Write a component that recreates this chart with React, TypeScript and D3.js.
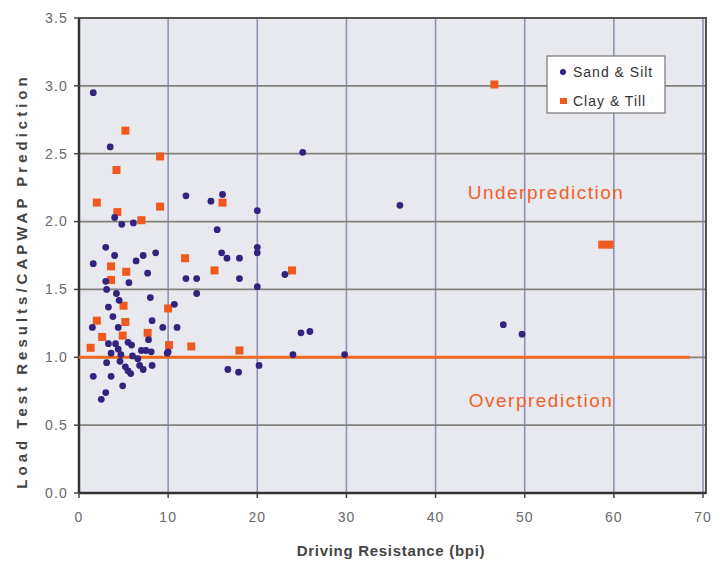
import React from "react";
import * as d3 from "d3";

const xTicks = [0, 10, 20, 30, 40, 50, 60, 70];
const yTicks = [0, 0.5, 1.0, 1.5, 2.0, 2.5, 3.0, 3.5];

const sandSilt: [number, number][] = [
  [1.6, 2.95], [3.5, 2.55], [12.0, 2.19], [14.8, 2.15], [16.1, 2.2], [20.0, 2.08], [25.1, 2.51], [36.0, 2.12],
  [47.6, 1.24], [49.7, 1.17], [4.0, 2.03], [4.8, 1.98], [6.1, 1.99],
  [3.0, 1.81], [4.0, 1.75], [1.6, 1.69], [7.2, 1.75], [8.6, 1.77], [6.4, 1.71], [7.7, 1.62], [5.6, 1.55],
  [3.0, 1.56], [3.1, 1.5], [4.2, 1.47], [8.0, 1.44], [4.5, 1.42], [3.3, 1.37], [10.7, 1.39], [3.8, 1.3],
  [1.5, 1.22], [4.4, 1.22], [8.2, 1.27], [9.4, 1.22], [11.0, 1.22], [13.2, 1.47],
  [15.5, 1.94], [16.0, 1.77], [16.6, 1.73], [18.0, 1.73], [20.0, 1.81], [20.0, 1.77], [12.0, 1.58], [13.2, 1.58],
  [18.0, 1.58], [20.0, 1.52], [23.1, 1.61], [24.9, 1.18], [25.9, 1.19], [24.0, 1.02], [29.8, 1.02],
  [20.2, 0.94], [16.7, 0.91], [17.9, 0.89], [10.0, 1.04],
  [7.8, 1.13], [3.3, 1.1], [4.1, 1.1], [5.5, 1.11], [5.9, 1.09], [4.4, 1.06], [7.0, 1.05], [7.5, 1.05],
  [8.1, 1.04], [3.6, 1.03], [4.7, 1.02], [9.9, 1.03], [6.0, 1.01], [6.6, 0.99],
  [3.1, 0.96], [4.6, 0.97], [5.2, 0.93], [5.5, 0.9], [5.8, 0.88], [6.8, 0.94], [7.2, 0.91], [8.2, 0.94],
  [1.6, 0.86], [3.6, 0.86], [4.9, 0.79], [3.0, 0.74], [2.5, 0.69],
];

const clayTill: [number, number][] = [
  [46.6, 3.01], [58.7, 1.83], [59.5, 1.83], [5.2, 2.67], [9.1, 2.48], [4.2, 2.38], [2.0, 2.14], [4.3, 2.07],
  [9.1, 2.11], [7.0, 2.01], [16.1, 2.14], [3.6, 1.67], [5.3, 1.63], [3.6, 1.57], [11.9, 1.73], [15.2, 1.64],
  [23.9, 1.64], [5.0, 1.38], [10.0, 1.36], [2.0, 1.27], [5.2, 1.26], [2.6, 1.15], [4.9, 1.16], [7.7, 1.18],
  [1.3, 1.07], [10.1, 1.09], [12.6, 1.08], [18.0, 1.05],
];

const refLine: [number, number][] = [[0, 1.0], [68.5, 1.0]];

const BLUE = "#33237f";
const ORANGE = "#f0581c";

export default function App() {
  const W = 724, H = 564;
  const L = 79, R = 703, T = 18, B = 493;
  const x = d3.scaleLinear().domain([0, 70]).range([L, R]);
  const y = d3.scaleLinear().domain([0, 3.5]).range([B, T]);
  const line = d3.line<[number, number]>().x(d => x(d[0])).y(d => y(d[1]));
  const font = "Arial, 'Liberation Sans', sans-serif";

  return (
    <svg width={W} height={H} style={{ position: "absolute", left: 0, top: 0, background: "#fff" }}>
      <rect x={L} y={T} width={R - L + 3} height={B - T} fill="#e8e9ef" />
      {xTicks.slice(1).map(t => (
        <line key={"vx" + t} x1={x(t)} x2={x(t)} y1={T} y2={B} stroke="#8e92b6" strokeWidth={1.6} />
      ))}
      {yTicks.slice(1).map(t => (
        <line key={"hy" + t} x1={L} x2={R + 3} y1={y(t)} y2={y(t)} stroke="#82827c" strokeWidth={1.8} />
      ))}
      <rect x={L} y={T} width={R - L + 3} height={B - T} fill="none" stroke="#555" strokeWidth={2} />
      <line x1={L} x2={L} y1={T} y2={B} stroke="#333" strokeWidth={2.5} />
      <line x1={L} x2={R + 3} y1={B} y2={B} stroke="#333" strokeWidth={2.5} />
      {yTicks.map(t => (
        <g key={"yt" + t}>
          <line x1={L - 5} x2={L} y1={y(t)} y2={y(t)} stroke="#444" strokeWidth={1.5} />
          <text x={L - 11} y={y(t)} dy="0.35em" textAnchor="end" fontFamily={font} fontSize={14} letterSpacing={1.2} fill="#6a6a6a">
            {t.toFixed(1)}
          </text>
        </g>
      ))}
      {xTicks.map(t => (
        <g key={"xt" + t}>
          <line x1={x(t)} x2={x(t)} y1={B} y2={B + 5} stroke="#444" strokeWidth={1.5} />
          <text x={x(t)} y={B + 29} textAnchor="middle" fontFamily={font} fontSize={14} letterSpacing={1} fill="#6a6a6a">
            {t}
          </text>
        </g>
      ))}
      <path d={line(refLine) || ""} stroke="#f26a1f" strokeWidth={3} fill="none" />
      {clayTill.map((d, i) => (
        <rect key={"c" + i} x={x(d[0]) - 4} y={y(d[1]) - 4} width={8} height={8} fill={ORANGE} />
      ))}
      {sandSilt.map((d, i) => (
        <circle key={"s" + i} cx={x(d[0])} cy={y(d[1])} r={3.4} fill={BLUE} />
      ))}
      <text x={546} y={199} textAnchor="middle" fontFamily={font} fontSize={19} letterSpacing={1.5} fill="#f0602a">Underprediction</text>
      <text x={541} y={407} textAnchor="middle" fontFamily={font} fontSize={19} letterSpacing={1.5} fill="#f0602a">Overprediction</text>
      <g>
        <rect x={547} y={56} width={118} height={57} fill="#fff" stroke="#777" strokeWidth={1.2} />
        <circle cx={563} cy={72} r={3} fill={BLUE} />
        <text x={573} y={72} dy="0.35em" fontFamily={font} fontSize={14} letterSpacing={1} fill="#333">Sand &amp; Silt</text>
        <rect x={560} y={98} width={7} height={6} fill={ORANGE} />
        <text x={573} y={101} dy="0.35em" fontFamily={font} fontSize={14} letterSpacing={1} fill="#333">Clay &amp; Till</text>
      </g>
      <text x={391} y={556} textAnchor="middle" fontFamily={font} fontSize={15} letterSpacing={0.7} fontWeight="bold" fill="#444">
        Driving Resistance (bpi)
      </text>
      <text transform={`translate(27,281) rotate(-90)`} textAnchor="middle" fontFamily={font} fontSize={15} letterSpacing={4}
        fontWeight="bold" fill="#444">
        Load Test Results/CAPWAP Prediction
      </text>
    </svg>
  );
}
